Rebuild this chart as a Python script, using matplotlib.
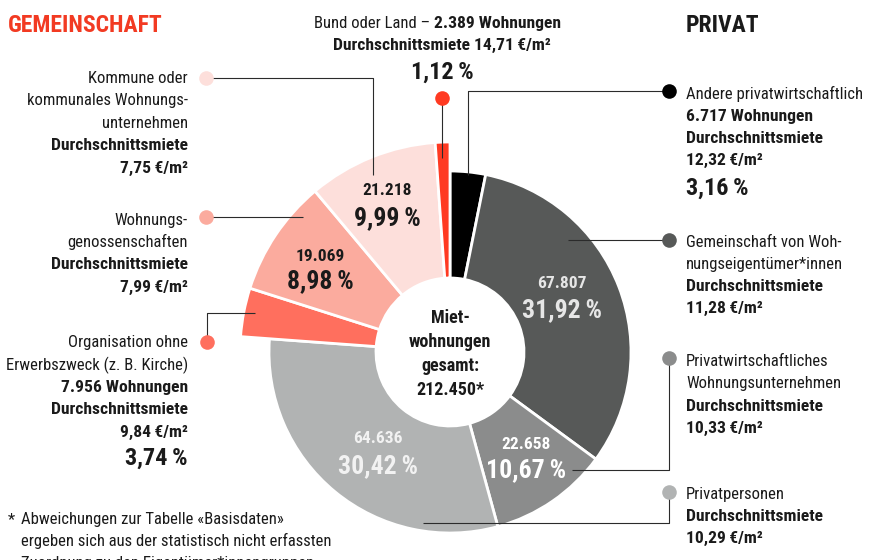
import matplotlib
matplotlib.use("Agg")
import matplotlib.pyplot as plt

plt.rcParams["font.family"] = ["Roboto Condensed", "DejaVu Sans"]

# Rental flats by type of owner, clockwise from 12 o'clock
categories = [
    "Andere privatwirtschaftlich",
    "Gemeinschaft von Wohnungseigentümer*innen",
    "Privatwirtschaftliches Wohnungsunternehmen",
    "Privatpersonen",
    "Organisation ohne Erwerbszweck",
    "Wohnungsgenossenschaften",
    "Kommune oder kommunales Wohnungsunternehmen",
    "Bund oder Land",
]
counts = [6717, 67807, 22658, 64636, 7956, 19069, 21218, 2389]
shares = [3.16, 31.92, 10.67, 30.42, 3.74, 8.98, 9.99, 1.12]
rents = [12.32, 11.28, 10.33, 10.29, 9.84, 7.99, 7.75, 14.71]
sector = ["privat"] * 4 + ["gemeinschaft"] * 4
total = 212450

colors = ["#000000", "#575958", "#8b8c8c", "#b1b3b3",
          "#ff6f5e", "#fbab9e", "#fddfdb", "#ff3a22"]
RED = "#f23a22"
INK = "#1a1a1a"
LEAD = "#2b2b2b"

W, H = 871, 560
fig = plt.figure(figsize=(W / 100, H / 100), dpi=100)
ax = fig.add_axes([0, 0, 1, 1])

CX, CY = 450, 352
R_IN = 74
R_OUT = {"privat": 181, "gemeinschaft": 210}

wedges, _ = ax.pie(
    counts, colors=colors, startangle=-90, counterclock=True,
    center=(CX, CY), radius=R_OUT["privat"],
    wedgeprops=dict(width=R_OUT["privat"] - R_IN, edgecolor="white", linewidth=2),
)
for w, s in zip(wedges, sector):
    r = R_OUT[s]
    w.set_radius(r)
    w.set_width(r - R_IN)

ax.set_xlim(0, W)
ax.set_ylim(H, 0)
ax.set_aspect("equal")
ax.axis("off")

THIN = "\u2009"
BODY, BOLD, BIG, IN_NUM, IN_PCT = 12, 12.6, 17.5, 12.5, 18.5


def num(v):
    return f"{v:,}".replace(",", ".")


def pct(v):
    return f"{v:.2f}".replace(".", ",") + THIN + "%"


def rent(v):
    return f"{v:.2f}".replace(".", ",") + THIN + "€/m²"


def txt(x, y, s, weight="normal", size=BODY, ha="left", color=INK):
    return ax.text(x, y, s, fontsize=size, fontweight=weight, ha=ha,
                   va="baseline", color=color)


def block(x, ha, rows):
    for y, s, kind in rows:
        if kind == "n":
            txt(x, y, s, "normal", BODY, ha)
        elif kind == "b":
            txt(x, y, s, "bold", BOLD, ha)
        else:
            txt(x, y, s, "bold", BIG, ha)


def leader(i, pts):
    xs, ys = zip(*pts)
    ax.plot(xs, ys, color=LEAD, lw=0.8, solid_capstyle="butt", zorder=4)
    ax.plot(xs[0], ys[0], "o", ms=10.5, color=colors[i], mec="none", zorder=5)


# group headings
txt(8, 32, "GEMEINSCHAFT", "bold", 17, color=RED)
txt(686, 32, "PRIVAT", "bold", 17)

# Bund oder Land (top)
t1 = txt(314, 28, "Bund oder Land – ")
fig.canvas.draw()
x1 = t1.get_window_extent().x1
txt(x1, 28, f"{num(counts[7])} Wohnungen", "bold", BOLD)
txt(442, 50, f"Durchschnittsmiete {rent(rents[7])}", "bold", BOLD, ha="center")
txt(442, 79, pct(shares[7]), "bold", BIG, ha="center")
leader(7, [(442, 98), (442, 158)])

# Gemeinschaft, left side
block(188, "right", [
    (83, "Kommune oder", "n"),
    (105.5, "kommunales Wohnungs-", "n"),
    (128, "unternehmen", "n"),
    (150.5, "Durchschnittsmiete", "b"),
    (173, rent(rents[6]), "b"),
])
leader(6, [(206, 78), (373, 78), (373, 175)])

block(188, "right", [
    (225, "Wohnungs-", "n"),
    (247, "genossenschaften", "n"),
    (269, "Durchschnittsmiete", "b"),
    (292, rent(rents[5]), "b"),
])
leader(5, [(206, 217), (303, 217)])

block(188, "right", [
    (347, "Organisation ohne", "n"),
    (370, "Erwerbszweck (z. B. Kirche)", "n"),
    (392, f"{num(counts[4])} Wohnungen", "b"),
    (414, "Durchschnittsmiete", "b"),
    (437, rent(rents[4]), "b"),
    (465, pct(shares[4]), "B"),
])
leader(4, [(207, 342), (207, 313), (255, 313)])

# Privat, right side
block(686, "left", [
    (99, "Andere privatwirtschaftlich", "n"),
    (121, f"{num(counts[0])} Wohnungen", "b"),
    (143, "Durchschnittsmiete", "b"),
    (165, rent(rents[0]), "b"),
    (195, pct(shares[0]), "B"),
])
leader(0, [(669, 91), (468, 91), (468, 175)])

block(686, "left", [
    (247, "Gemeinschaft von Woh-", "n"),
    (269, "nungseigentümer*innen", "n"),
    (291, "Durchschnittsmiete", "b"),
    (313, rent(rents[1]), "b"),
])
leader(1, [(669, 240), (568, 240)])

block(686, "left", [
    (366, "Privatwirtschaftliches", "n"),
    (388, "Wohnungsunternehmen", "n"),
    (411, "Durchschnittsmiete", "b"),
    (433, rent(rents[2]), "b"),
])
leader(2, [(669, 358), (669, 470), (572, 470)])

block(686, "left", [
    (499, "Privatpersonen", "n"),
    (521, "Durchschnittsmiete", "b"),
    (543, rent(rents[3]), "b"),
])
leader(3, [(669, 492), (669, 523), (423, 523)])

# values inside the ring
inside = {
    6: (387, 195, 225, INK),
    5: (320, 261, 288, INK),
    1: (562, 288, 317, "#e6e6e6"),
    2: (526, 449, 477, "white"),
    3: (378, 443, 473, "#f2f2f2"),
}
for i, (x, yc, yp, c) in inside.items():
    txt(x, yc, num(counts[i]), "bold", IN_NUM, "center", c)
    txt(x, yp, pct(shares[i]), "bold", IN_PCT, "center", c)

# centre caption
for y, s in zip([323, 347, 371, 395],
                ["Miet-", "wohnungen", "gesamt:", f"{num(total)}*"]):
    txt(CX, y, s, "bold", 13, "center")

# footnote
txt(8, 524, "*")
txt(21, 524, "Abweichungen zur Tabelle «Basisdaten»")
txt(21, 546, "ergeben sich aus der statistisch nicht erfassten")
txt(21, 568, "Zuordnung zu den Eigentümer*innengruppen.")

fig.savefig("out.png", dpi=100)
